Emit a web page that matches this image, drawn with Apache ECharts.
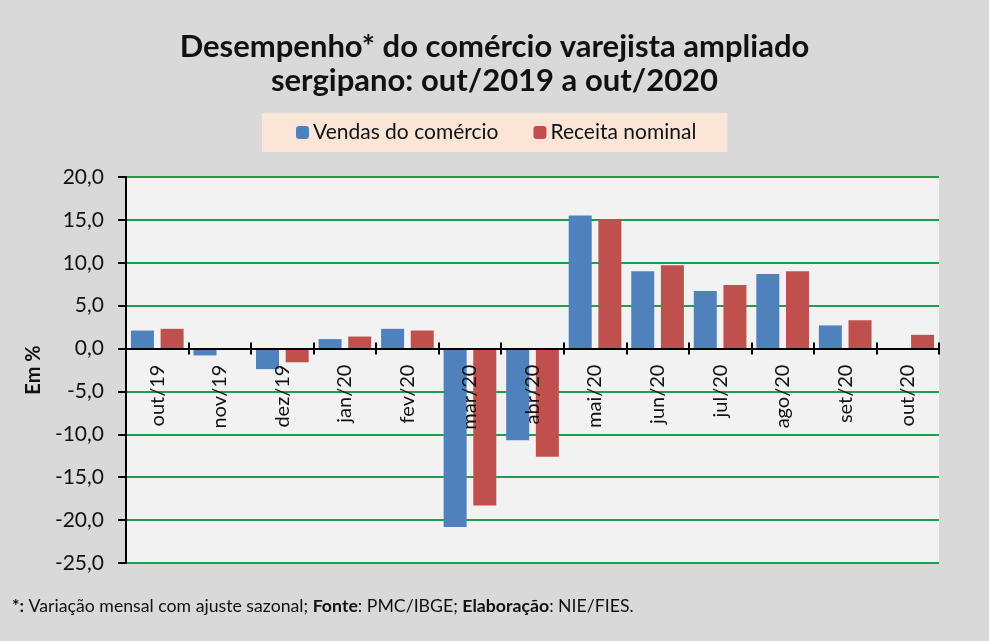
<!DOCTYPE html>
<html>
<head>
<meta charset="utf-8">
<script src="https://cdn.jsdelivr.net/npm/echarts@6/dist/echarts.min.js"></script>
<style>
  html, body { margin: 0; padding: 0; background: #d9d9d9; }
  #chart { width: 989px; height: 641px; }
</style>
</head>
<body>
<div id="chart"></div>
<script>
// Data
const months = ['out/19', 'nov/19', 'dez/19', 'jan/20', 'fev/20', 'mar/20', 'abr/20',
                'mai/20', 'jun/20', 'jul/20', 'ago/20', 'set/20', 'out/20'];
const vendas = [2.1, -0.8, -2.4, 1.1, 2.3, -20.8, -10.7, 15.5, 9.0, 6.7, 8.7, 2.7, 0.0];
const receita = [2.3, 0.0, -1.6, 1.4, 2.1, -18.3, -12.6, 15.0, 9.7, 7.4, 9.0, 3.3, 1.6];
const seriesNames = ['Vendas do comércio', 'Receita nominal'];
const yTicks = { min: -25, max: 20, interval: 5 };

(function() {
    const chart = echarts.init(document.getElementById('chart'), null, { renderer: 'canvas' });
    const font = 'Lato, "Open Sans", sans-serif';

    // plot box, in px
    const plot = { left: 126, right: 50, top: 177, bottom: 78 };
    const plotH = 641 - plot.top - plot.bottom;
    // where the zero line falls, so the category axis can sit on it
    const zeroY = plot.top + plotH * (yTicks.max / (yTicks.max - yTicks.min));

    const hiddenY = (gridIndex) => ({
        type: 'value', gridIndex: gridIndex, min: 0, max: 1, show: false
    });

    const option = {
        backgroundColor: '#d9d9d9',
        animation: false,
        textStyle: { fontFamily: font },
        title: {
            text: 'Desempenho* do comércio varejista ampliado\nsergipano: out/2019 a out/2020',
            left: 'center',
            top: 25,
            textStyle: { fontFamily: font, fontSize: 31, fontWeight: 'bold', color: '#111', lineHeight: 34 }
        },
        legend: {
            data: seriesNames,
            left: 262,
            top: 113,
            backgroundColor: '#fbe5d6',
            padding: [9, 31, 9, 34],
            itemWidth: 13,
            itemHeight: 13,
            itemGap: 35,
            textStyle: { fontFamily: font, fontSize: 21, color: '#111', padding: [0, 0, 0, -1] }
        },
        grid: [
            {
                left: plot.left, right: plot.right, top: plot.top, bottom: plot.bottom,
                show: true, backgroundColor: '#f2f2f2', borderWidth: 0
            },
            // upper half: its bottom edge is the zero line (labels + downward ticks)
            { left: plot.left, right: plot.right, top: plot.top, height: zeroY - plot.top },
            // lower half: its top edge is the zero line (upward ticks)
            { left: plot.left, right: plot.right, top: zeroY, bottom: plot.bottom }
        ],
        xAxis: [
            {
                type: 'category',
                gridIndex: 0,
                data: months,
                axisLine: { show: false },
                axisTick: { show: false },
                axisLabel: { show: false },
                splitLine: { show: false }
            },
            {
                type: 'category',
                gridIndex: 1,
                data: months,
                position: 'bottom',
                axisLine: { onZero: false, lineStyle: { color: '#000', width: 2 } },
                axisTick: { show: true, length: 6, lineStyle: { color: '#000', width: 2 } },
                axisLabel: { rotate: 90, margin: 16, fontSize: 20, color: '#111', fontFamily: font },
                splitLine: { show: false },
                z: 5
            },
            {
                type: 'category',
                gridIndex: 2,
                data: months,
                position: 'top',
                axisLine: { onZero: false, show: false },
                axisTick: { show: true, length: 6, lineStyle: { color: '#000', width: 2 } },
                axisLabel: { show: false },
                splitLine: { show: false }
            }
        ],
        yAxis: [
            {
                type: 'value',
                gridIndex: 0,
                min: yTicks.min,
                max: yTicks.max,
                interval: yTicks.interval,
                name: 'Em %',
                nameLocation: 'middle',
                nameGap: 79,
                nameTextStyle: { fontFamily: font, fontSize: 20, fontWeight: 'bold', color: '#111' },
                axisLine: { show: true, lineStyle: { color: '#000', width: 2 } },
                axisTick: { show: true, length: 8, lineStyle: { color: '#000', width: 2 } },
                axisLabel: {
                    fontSize: 21, color: '#111', margin: 22, fontFamily: font,
                    formatter: v => v.toFixed(1).replace('.', ',')
                },
                splitLine: { lineStyle: { color: '#1f9e4c', width: 2 } }
            },
            hiddenY(1),
            hiddenY(2)
        ],
        series: [
            {
                name: seriesNames[0],
                type: 'bar',
                xAxisIndex: 0,
                yAxisIndex: 0,
                data: vendas,
                barWidth: 23,
                barGap: '29%',
                itemStyle: { color: '#4f81bd' }
            },
            {
                name: seriesNames[1],
                type: 'bar',
                xAxisIndex: 0,
                yAxisIndex: 0,
                data: receita,
                barWidth: 23,
                barGap: '29%',
                itemStyle: { color: '#c0504d' }
            }
        ],
        graphic: [
            {
                type: 'text',
                left: 12,
                top: 597,
                style: {
                    text: '{b|*:} Variação mensal com ajuste sazonal; {b|Fonte}: PMC/IBGE; {b|Elaboração}: NIE/FIES.',
                    fontFamily: font,
                    fontSize: 17.7,
                    fill: '#111',
                    rich: {
                        b: { fontFamily: font, fontSize: 17.7, fontWeight: 'bold', fill: '#111' }
                    }
                }
            }
        ]
    };

    chart.setOption(option);
})();
</script>
</body>
</html>
